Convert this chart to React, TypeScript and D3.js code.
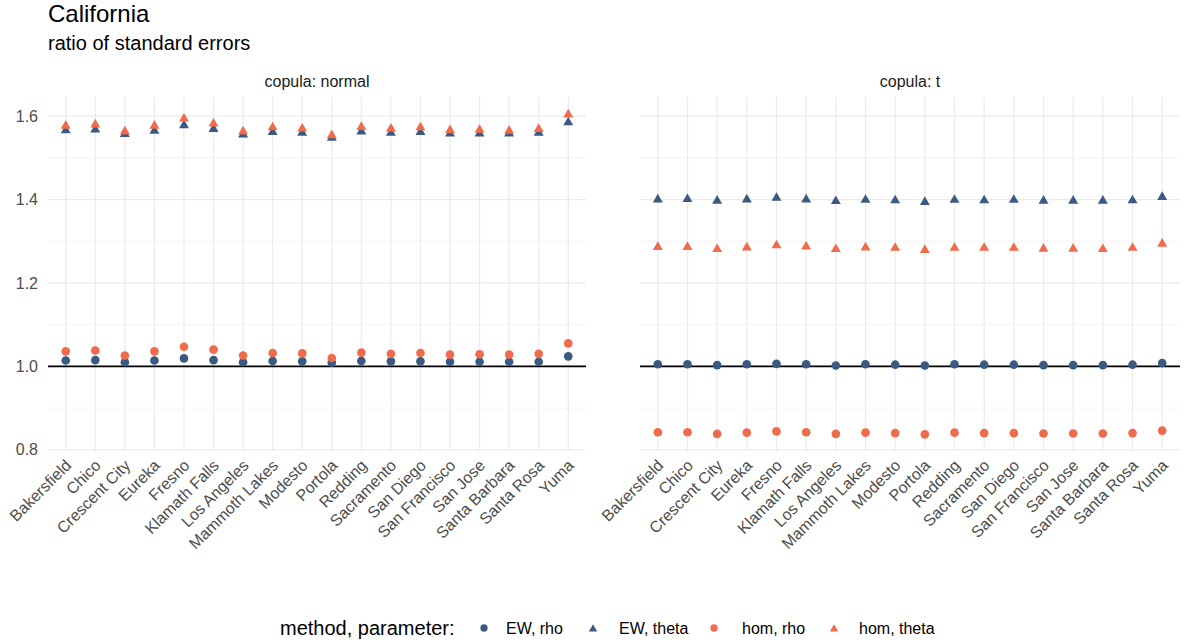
import React from "react";
import * as d3 from "d3";

const cities = [
  "Bakersfield", "Chico", "Crescent City", "Eureka", "Fresno", "Klamath Falls",
  "Los Angeles", "Mammoth Lakes", "Modesto", "Portola", "Redding", "Sacramento",
  "San Diego", "San Francisco", "San Jose", "Santa Barbara", "Santa Rosa", "Yuma",
];

// copula: normal
const normalEWRho = [1.014, 1.015, 1.010, 1.014, 1.019, 1.015, 1.010, 1.013, 1.012, 1.009, 1.013, 1.012, 1.012, 1.011, 1.011, 1.011, 1.011, 1.024];
const normalEWTheta = [1.566, 1.568, 1.557, 1.565, 1.578, 1.569, 1.556, 1.562, 1.560, 1.548, 1.563, 1.560, 1.562, 1.558, 1.558, 1.558, 1.560, 1.585];
const normalHomRho = [1.036, 1.038, 1.026, 1.036, 1.047, 1.040, 1.026, 1.032, 1.031, 1.020, 1.033, 1.030, 1.032, 1.028, 1.029, 1.028, 1.030, 1.055];
const normalHomTheta = [1.577, 1.580, 1.563, 1.577, 1.594, 1.582, 1.563, 1.573, 1.570, 1.554, 1.574, 1.570, 1.573, 1.566, 1.567, 1.565, 1.569, 1.604];

// copula: t
const tEWRho = [1.005, 1.005, 1.003, 1.005, 1.006, 1.005, 1.002, 1.005, 1.004, 1.002, 1.005, 1.004, 1.004, 1.003, 1.003, 1.003, 1.004, 1.008];
const tEWTheta = [1.400, 1.401, 1.397, 1.400, 1.404, 1.400, 1.396, 1.399, 1.398, 1.394, 1.399, 1.398, 1.399, 1.397, 1.397, 1.397, 1.398, 1.406];
const tHomRho = [0.842, 0.842, 0.838, 0.841, 0.844, 0.842, 0.838, 0.841, 0.840, 0.837, 0.841, 0.840, 0.840, 0.839, 0.839, 0.839, 0.840, 0.846];
const tHomTheta = [1.286, 1.286, 1.281, 1.285, 1.290, 1.287, 1.281, 1.285, 1.284, 1.279, 1.284, 1.284, 1.284, 1.282, 1.282, 1.281, 1.284, 1.294];

const panels = ["copula: normal", "copula: t"];
const seriesNames = ["EW, rho", "EW, theta", "hom, rho", "hom, theta"];
const yTicks = [0.8, 1.0, 1.2, 1.4, 1.6];
const yMinorTicks = [0.9, 1.1, 1.3, 1.5];

const BLUE = "#3b5a82";
const ORANGE = "#f06b4c";
const FONT = "'Liberation Sans', Arial, Helvetica, sans-serif";

const seriesStyle = [
  { color: BLUE, shape: "circle" },
  { color: BLUE, shape: "triangle" },
  { color: ORANGE, shape: "circle" },
  { color: ORANGE, shape: "triangle" },
];

const panelData = [
  [normalEWRho, normalEWTheta, normalHomRho, normalHomTheta],
  [tEWRho, tEWTheta, tHomRho, tHomTheta],
];

const panelRanges: [number, number][] = [
  [48, 586],
  [640, 1180],
];

const triPath = (k: number) =>
  `M0,${-1.555 * k}L${1.347 * k},${0.778 * k}L${-1.347 * k},${0.778 * k}Z`;

function Marker({ shape, color, x, y, size = 3.7 }: any) {
  if (shape === "circle") return <circle cx={x} cy={y} r={size * 1.17} fill={color} />;
  return <path d={triPath(size)} transform={`translate(${x},${y})`} fill={color} />;
}

export default function App() {
  const W = 1184;
  const H = 643;
  const y = d3.scaleLinear().domain([0.797, 1.646]).range([451, 97]);
  const panelTop = 97;
  const panelBottom = 451;

  const legendItems = [
    { mx: 484, tx: 506 },
    { mx: 593, tx: 619 },
    { mx: 714, tx: 742 },
    { mx: 834, tx: 859 },
  ];

  return (
    <svg width={W} height={H} style={{ display: "block", position: "absolute", left: 0, top: 0 }} fontFamily={FONT}>
      <rect width={W} height={H} fill="#ffffff" />
      <text x={48} y={22} fontSize={24} fill="#000">California</text>
      <text x={48} y={50} fontSize={20} fill="#000">ratio of standard errors</text>

      {panels.map((p, pi) => {
        const x = d3.scalePoint<string>().domain(cities).range(panelRanges[pi]).padding(0.6);
        const [x0, x1] = panelRanges[pi];
        return (
          <g key={p}>
            <text x={(x0 + x1) / 2} y={87} fontSize={16} fill="#1a1a1a" textAnchor="middle">{p}</text>
            {yMinorTicks.map((t) => (
              <line key={"mn" + t} x1={x0} x2={x1} y1={y(t)} y2={y(t)} stroke="#ebebeb" strokeWidth={0.6} />
            ))}
            {yTicks.map((t) => (
              <line key={"mj" + t} x1={x0} x2={x1} y1={y(t)} y2={y(t)} stroke="#ebebeb" strokeWidth={1.2} />
            ))}
            {cities.map((c) => (
              <line key={"v" + c} x1={x(c)} x2={x(c)} y1={panelTop} y2={panelBottom} stroke="#ebebeb" strokeWidth={1.2} />
            ))}
            <line x1={x0} x2={x1} y1={y(1)} y2={y(1)} stroke="#000" strokeWidth={1.8} />
            {pi === 0 &&
              yTicks.map((t) => (
                <text key={"yl" + t} x={38} y={y(t)} dy="0.35em" fontSize={16} fill="#4d4d4d" textAnchor="end">
                  {t.toFixed(1)}
                </text>
              ))}
            {cities.map((c) => (
              <text
                key={"xl" + c}
                transform={`translate(${(x(c) as number) - 2},${458}) rotate(-45)`}
                dy="0.75em"
                fontSize={16}
                fill="#4d4d4d"
                textAnchor="end"
              >
                {c}
              </text>
            ))}
            {panelData[pi].map((vals, si) =>
              vals.map((v, i) => (
                <Marker
                  key={si + "-" + i}
                  shape={seriesStyle[si].shape}
                  color={seriesStyle[si].color}
                  x={x(cities[i])}
                  y={y(v)}
                />
              ))
            )}
          </g>
        );
      })}

      <text x={280} y={628} dy="0.35em" fontSize={20} fill="#000">method, parameter:</text>
      {seriesNames.map((s, i) => (
        <g key={s}>
          <Marker shape={seriesStyle[i].shape} color={seriesStyle[i].color} x={legendItems[i].mx} y={seriesStyle[i].shape === "circle" ? 628 : 629} size={3.1} />
          <text x={legendItems[i].tx} y={628} dy="0.35em" fontSize={16} fill="#000">{s}</text>
        </g>
      ))}
    </svg>
  );
}
